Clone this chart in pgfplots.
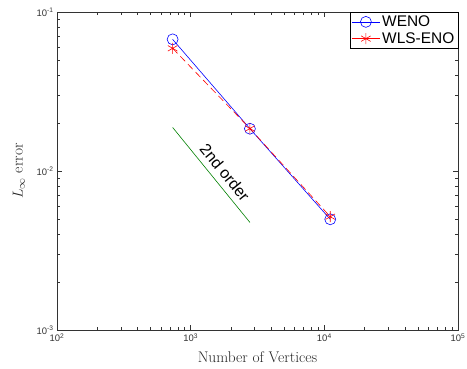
\documentclass[border=0pt]{standalone}
\usepackage{pgfplots}
\pgfplotsset{compat=1.18}
\usepackage{fontspec}
\newfontfamily\arial{Liberation Sans}
\begin{document}
\begin{tikzpicture}
\begin{axis}[
  scale only axis,
  width=401bp, height=318bp,
  xmode=log, ymode=log,
  xmin=100, xmax=100000, ymin=0.001, ymax=0.1,
  axis line style={draw=black!80, line width=0.5pt},
  tick style={draw=black!80, line width=0.4pt},
  tick align=inside,
  major tick length=5bp, minor tick length=3bp,
  xtick={100,1000,10000,100000},
  xticklabels={10\textsuperscript{2},10\textsuperscript{3},10\textsuperscript{4},10\textsuperscript{5}},
  ytick={0.001,0.01,0.1},
  yticklabels={10\textsuperscript{-3},10\textsuperscript{-2},10\textsuperscript{-1}},
  ticklabel style={font=\arial\fontsize{9.5}{11}\selectfont, text=black!80},
  xlabel={Number of Vertices},
  ylabel={$L_\infty$ error},
  label style={font=\fontsize{15.5}{17}\selectfont, text=black!85},
  xlabel style={at={(axis description cs:0.5,-0.085)}, anchor=center},
  ylabel style={at={(axis description cs:-0.095,0.5)}, anchor=center},
  legend style={at={(1,1)}, anchor=north east, font=\arial\fontsize{15.5}{16}\selectfont,
     draw=black, line width=0.5pt, inner sep=1.5pt, row sep=0.5pt, cells={anchor=west}},
  legend cell align=left,
  legend image code/.code={%
    \draw[mark repeat=2,mark phase=2, solid] plot coordinates {(0bp,0bp) (14bp,0bp) (28bp,0bp)};},
]
\addplot[blue, line width=0.6pt, mark=o, mark size=5.5bp, mark options={solid}]
  coordinates {(733,0.0673) (2775,0.01845) (11070,0.00497)};
\addlegendentry{WENO}
\addplot[red, line width=0.6pt, dashed, dash pattern=on 7bp off 4bp, mark=asterisk, mark size=5.5bp, mark options={solid}]
  coordinates {(733,0.0591) (2775,0.0185) (11070,0.00516)};
\addlegendentry{WLS-ENO}
\addplot[green!50!black, line width=0.6pt, forget plot]
  coordinates {(733,0.0188) (2775,0.00475)};
\node[font=\arial\fontsize{16}{18}\selectfont, rotate=-50.8, xshift=2bp, yshift=2bp] at (axis cs:1720,0.0098) {2nd order};
\end{axis}
\pgfresetboundingbox
\path[use as bounding box] (current axis.south west) ++(-57bp,-39bp) rectangle ([shift={(9bp,12bp)}]current axis.north east);
\end{tikzpicture}
\end{document}
